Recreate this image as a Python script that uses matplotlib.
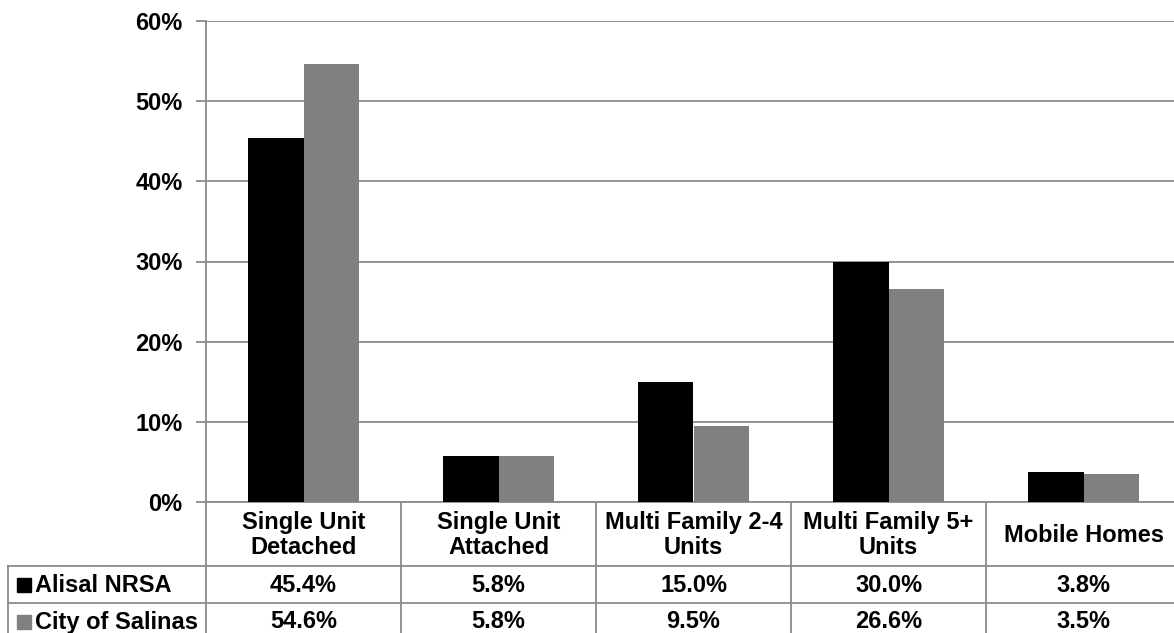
import matplotlib.pyplot as plt
from matplotlib.transforms import blended_transform_factory, ScaledTranslation
from matplotlib.patches import Rectangle
import numpy as np

plt.rcParams['font.family'] = ['Liberation Sans', 'DejaVu Sans']
plt.rcParams['font.weight'] = 'bold'

categories = ["Single Unit\nDetached", "Single Unit\nAttached", "Multi Family 2-4\nUnits",
              "Multi Family 5+\nUnits", "Mobile Homes"]
series_names = ["Alisal NRSA", "City of Salinas"]
alisal = [45.4, 5.8, 15.0, 30.0, 3.8]
salinas = [54.6, 5.8, 9.5, 26.6, 3.5]
colors = ["#000000", "#808080"]
yticks = [0, 10, 20, 30, 40, 50, 60]

W, H = 1174, 633
fig = plt.figure(figsize=(W / 100, H / 100), dpi=100)

# plot area in pixels: left 206, right 1181 (clipped), 0% at y=502, 60% at y=21
x0, x1, ybot, ytop = 206, 1181, 502, 21
ax = fig.add_axes([x0 / W, (H - ybot) / H, (x1 - x0) / W, (ybot - ytop) / H])

grid_c = "#8a8a8a"
x = np.arange(len(categories))
bw = 0.285
ax.bar(x - bw / 2, alisal, bw, color=colors[0], zorder=3)
ax.bar(x + bw / 2, salinas, bw, color=colors[1], zorder=3)

ax.set_xlim(-0.5, len(categories) - 0.5)
ax.set_ylim(0, 60)
ax.set_yticks(yticks)
ax.set_yticklabels([f"{v}%" for v in yticks], fontsize=17, fontweight='bold')
shift = ScaledTranslation(0, -2 / 100, fig.dpi_scale_trans)
for lab in ax.get_yticklabels():
    lab.set_transform(lab.get_transform() + shift)
ax.yaxis.grid(True, color=grid_c, linewidth=1.3, zorder=0)
ax.tick_params(axis='y', length=7, width=1.3, color=grid_c, pad=10)
ax.set_xticks([])
for s in ['top', 'right']:
    ax.spines[s].set_visible(False)
for s in ['left', 'bottom']:
    ax.spines[s].set_color(grid_c)
    ax.spines[s].set_linewidth(1.3)

# data table below the plot: x in data units, y in axes units
tr = blended_transform_factory(ax.transData, ax.transAxes)
ph = ybot - ytop


def ya(py):
    return (ybot - py) / ph


def xd(px):
    return (px - x0) / (x1 - x0) * len(categories) - 0.5


row_lines = [566, 603]
left_edge = xd(8)
right_edge = len(categories) - 0.5
lw = 1.3
for py in row_lines:
    ax.plot([left_edge, right_edge], [ya(py), ya(py)], color=grid_c, lw=lw,
            transform=tr, clip_on=False)
for i in range(len(categories) + 1):
    xb = i - 0.5
    ax.plot([xb, xb], [ya(ybot), ya(H + 5)], color=grid_c, lw=lw,
            transform=tr, clip_on=False)
ax.plot([left_edge, left_edge], [ya(566), ya(H + 5)], color=grid_c, lw=lw,
        transform=tr, clip_on=False)

for i, cat in enumerate(categories):
    ax.text(i, ya(535), cat, transform=tr, ha='center', va='center',
            fontsize=17, fontweight='bold', linespacing=1.11, clip_on=False)
    ax.text(i, ya(585), f"{alisal[i]:.1f}%", transform=tr, ha='center',
            va='center', fontsize=17, fontweight='bold', clip_on=False)
    ax.text(i, ya(622), f"{salinas[i]:.1f}%", transform=tr, ha='center',
            va='center', fontsize=17, fontweight='bold', clip_on=False)

for name, c, py in zip(series_names, colors, [585, 622]):
    ax.add_patch(Rectangle((xd(17), ya(py + 7)), xd(31) - xd(17), ya(py - 7) - ya(py + 7),
                           transform=tr, color=c, clip_on=False))
    ax.text(xd(35), ya(py), name, transform=tr, ha='left', va='center',
            fontsize=17, fontweight='bold', clip_on=False)

fig.savefig("out.png", dpi=100)
